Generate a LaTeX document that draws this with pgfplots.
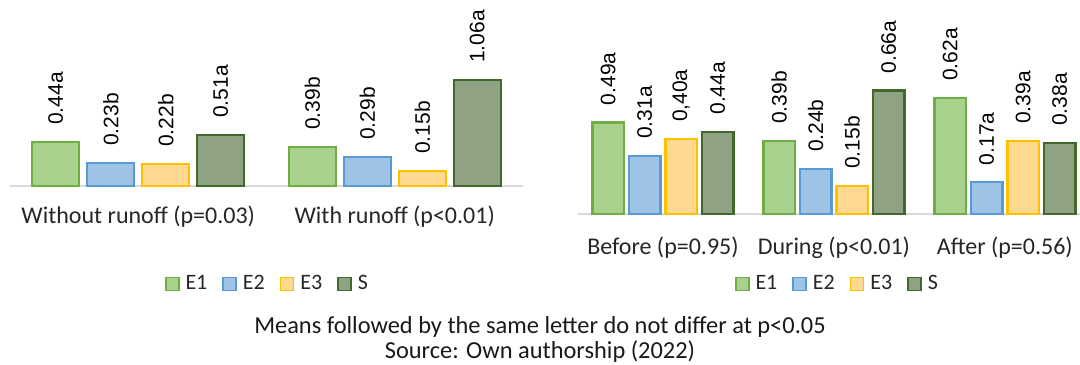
\documentclass[border=0pt]{standalone}
\usepackage{fontspec}
\setmainfont{Carlito}
\newfontfamily\labf{Liberation Sans}
\usepackage{pgfplots}
\usepackage{pgfplotstable}
\pgfplotsset{compat=1.18}
\definecolor{eAf}{HTML}{A9D18E}
\definecolor{eAd}{HTML}{70AD47}
\definecolor{eBf}{HTML}{9DC3E6}
\definecolor{eBd}{HTML}{5B9BD5}
\definecolor{eCf}{HTML}{FFD98F}
\definecolor{eCd}{HTML}{FFC000}
\definecolor{sf}{HTML}{8FA283}
\definecolor{sd}{HTML}{43682B}
\definecolor{axl}{HTML}{D9D9D9}

% Left chart (runoff)
\pgfplotstableread{
x y lab
0 0.44 0.44a
1 0.39 0.39b
}\LEa
\pgfplotstableread{
x y lab
0 0.23 0.23b
1 0.29 0.29b
}\LEb
\pgfplotstableread{
x y lab
0 0.22 0.22b
1 0.15 0.15b
}\LEc
\pgfplotstableread{
x y lab
0 0.51 0.51a
1 1.06 1.06a
}\LS

% Right chart (period)
\pgfplotstableread{
x y lab
0 0.49 0.49a
1 0.39 0.39b
2 0.62 0.62a
}\REa
\pgfplotstableread{
x y lab
0 0.31 0.31a
1 0.24 0.24b
2 0.17 0.17a
}\REb
\pgfplotstableread{
x y lab
0 0.40 0,40a
1 0.15 0.15b
2 0.39 0.39a
}\REc
\pgfplotstableread{
x y lab
0 0.44 0.44a
1 0.66 0.66a
2 0.38 0.38a
}\RS

\pgfplotsset{
  common/.style={
    scale only axis,
    ybar,
    ymin=0,
    enlargelimits=false,
    clip=false,
    axis x line=bottom,
    axis y line=none,
    x axis line style={-, draw=axl, line width=1pt},
    major tick length=0pt,
    xtick style={draw=none},
    ytick=\empty,
    point meta=explicit symbolic,
    nodes near coords,
    nodes near coords style={font=\labf\fontsize{10.5}{12}\selectfont, rotate=90, anchor=west, inner sep=0pt, inner xsep=8pt, text=black},
    xticklabel style={font=\fontsize{12}{14}\selectfont, anchor=base, text=black!85},
    legend columns=4,
    legend style={draw=none, fill=none, font=\fontsize{11}{13}\selectfont, anchor=center,
      inner sep=0pt, nodes={inner sep=0pt, text=black!85},
      /tikz/every odd column/.append style={column sep=3pt},
      /tikz/every even column/.append style={column sep=7.5pt}},
  },
  sqlegend/.style={
    legend image code/.code={\draw[##1, line width=0.8pt] (0pt,-3.25pt) rectangle (6.5pt,3.25pt);},
  },
  sA/.style={fill=eAf, draw=eAd, line width=1.2pt},
  sB/.style={fill=eBf, draw=eBd, line width=1.2pt},
  sC/.style={fill=eCf, draw=eCd, line width=1.2pt},
  sS/.style={fill=sf, draw=sd, line width=1.2pt},
}

\begin{document}
\begin{tikzpicture}
\useasboundingbox (0,0) rectangle (540pt,182pt);

\begin{axis}[common,
  at={(5pt,89pt)}, anchor=south west,
  width=256.5pt, height=55pt,
  ymax=1.1, xmin=-0.5, xmax=1.5,
  bar width=23.5pt, ybar=4pt,
  sqlegend,
  xtick={0,1},
  xticklabels={Without runoff (p=0.03), With runoff (p<0.01)},
  xticklabel style={yshift=-19pt},
  legend style={at={(0.5,0)}, yshift=-49pt},
]
\addplot[sA] table[x=x, y=y, meta=lab] {\LEa};
\addplot[sB] table[x=x, y=y, meta=lab] {\LEb};
\addplot[sC] table[x=x, y=y, meta=lab] {\LEc};
\addplot[sS] table[x=x, y=y, meta=lab] {\LS};
\legend{E1,E2,E3,S}
\end{axis}

\begin{axis}[common,
  at={(288.75pt,75pt)}, anchor=south west,
  width=251.25pt, height=65.45pt,
  ymax=0.7, xmin=-0.5, xmax=2.44,
  bar width=15.75pt, ybar=2.5pt,
  sqlegend,
  xtick={0,1,2},
  xticklabels={Before (p=0.95), During (p<0.01), After (p=0.56)},
  xticklabel style={yshift=-20pt},
  legend style={at={(0.5154,0)}, yshift=-35pt},
]
\addplot[sA] table[x=x, y=y, meta=lab] {\REa};
\addplot[sB] table[x=x, y=y, meta=lab] {\REb};
\addplot[sC] table[x=x, y=y, meta=lab] {\REc};
\addplot[sS] table[x=x, y=y, meta=lab] {\RS};
\legend{E1,E2,E3,S}
\end{axis}

\node[font=\fontsize{12.2}{14}\selectfont, text=black!90] at (270pt,18.5pt) {Means followed by the same letter do not differ at p<0.05};
\node[font=\fontsize{12.2}{14}\selectfont, text=black!90] at (270pt,6pt) {Source: Own authorship (2022)};
\end{tikzpicture}
\end{document}
